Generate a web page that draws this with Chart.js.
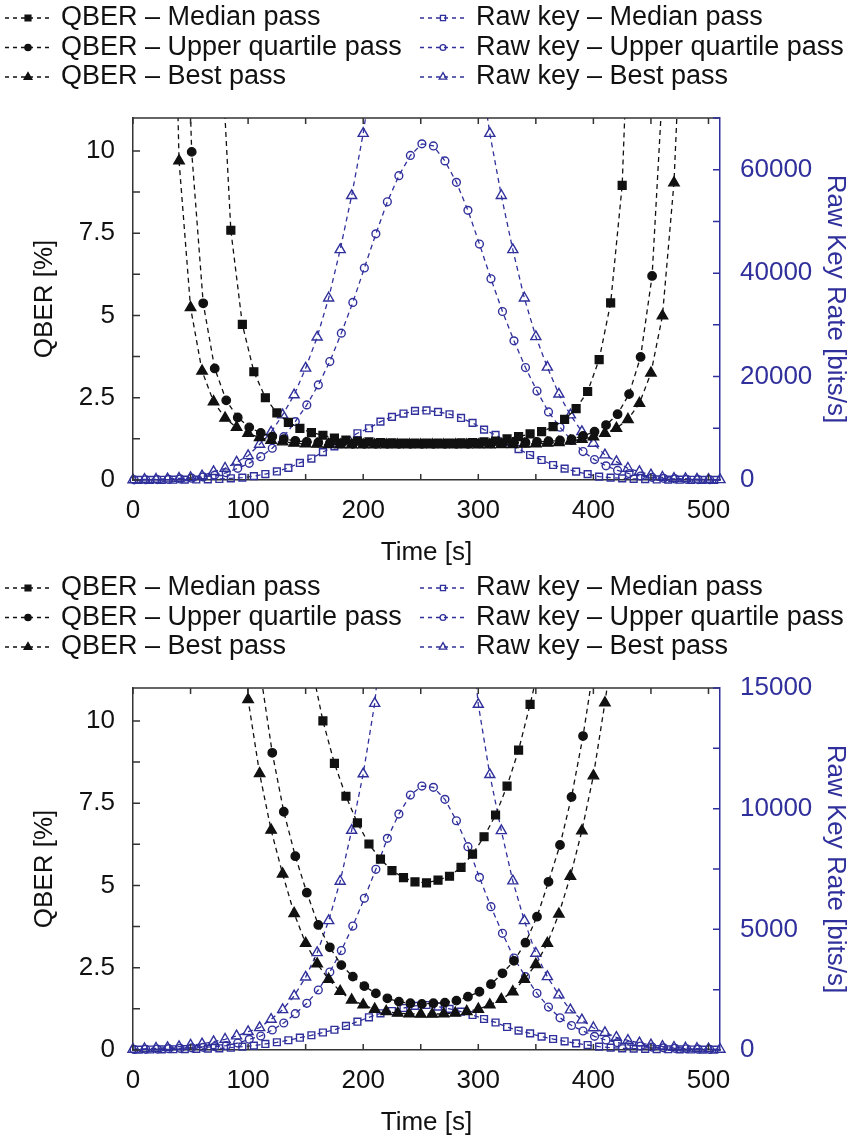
<!DOCTYPE html>
<html>
<head>
<meta charset="utf-8">
<title>QBER and raw key rate</title>
<script src="https://cdn.jsdelivr.net/npm/chart.js@4.4.1/dist/chart.umd.min.js"></script>
<style>
  html, body { margin: 0; padding: 0; background: #fff; }
  canvas { display: block; }
</style>
</head>
<body>
<canvas id="passChartTop" width="867" height="570"></canvas>
<canvas id="passChartBottom" width="867" height="570"></canvas>
<script>
// series names (legend order: left column QBER, right column raw key)
const seriesNames = [
    'QBER – Median pass', 'QBER – Upper quartile pass', 'QBER – Best pass',
    'Raw key – Median pass', 'Raw key – Upper quartile pass', 'Raw key – Best pass'
];

// sample times: every 10 s, each pass has its own first sample [s]
const medianStart = 5;
const upperStart = 1;
const bestStart = 0;

// ---- top chart ----
const qberMedianTopStart = 75;
const qberMedianTop = [14.4, 7.59, 4.73, 3.29, 2.50, 2.04, 1.75, 1.57, 1.44, 1.36,
    1.27, 1.21, 1.18, 1.16, 1.14, 1.13, 1.12, 1.12, 1.12, 1.12,
    1.12, 1.13, 1.14, 1.16, 1.18, 1.25, 1.32, 1.40, 1.47, 1.62,
    1.84, 2.17, 2.69, 3.66, 5.38, 8.95, 18.4];
const qberUpperTopStart = 41;
const qberUpperTop = [21, 9.97, 5.37, 3.39, 2.42, 1.90, 1.60, 1.43, 1.32, 1.24,
    1.19, 1.16, 1.14, 1.12, 1.11, 1.10, 1.10, 1.10, 1.10, 1.10,
    1.10, 1.10, 1.10, 1.10, 1.10, 1.10, 1.11, 1.11, 1.12, 1.13,
    1.14, 1.16, 1.18, 1.20, 1.24, 1.34, 1.47, 1.67, 2.00, 2.61,
    3.74, 6.20, 12.5];
const qberBestTopStart = 30;
const qberBestTop = [25, 9.70, 5.24, 3.31, 2.38, 1.88, 1.60, 1.42, 1.29, 1.21,
    1.16, 1.12, 1.10, 1.09, 1.08, 1.07, 1.07, 1.07, 1.07, 1.07,
    1.07, 1.07, 1.07, 1.07, 1.07, 1.07, 1.07, 1.07, 1.07, 1.08,
    1.08, 1.09, 1.10, 1.12, 1.14, 1.18, 1.24, 1.31, 1.42, 1.57,
    1.84, 2.33, 3.25, 4.99, 9.03, 17];

const rawMedianTop = [20, 30, 40, 60, 80, 100, 130, 200, 330, 450,
    750, 1150, 1650, 2350, 3300, 4150, 5400, 6500, 7740, 9040,
    10010, 11290, 12200, 12850, 13360, 13450, 13160, 12720, 12000, 11040,
    9750, 8710, 7360, 5970, 4840, 3870, 2900, 2200, 1610, 1130,
    640, 450, 320, 230, 160, 110, 80, 60, 40, 30, 20];
const rawUpperTop = [30, 50, 80, 120, 200, 350, 600, 950, 1400, 2260,
    3230, 4510, 6140, 8380, 11290, 14520, 18390, 22900, 28400, 34330,
    40990, 47600, 53800, 58850, 62760, 65000, 64600, 61700, 57560, 52140,
    45630, 38910, 32580, 26910, 21740, 17200, 13160, 10200, 7650, 5500,
    3950, 2740, 1850, 1250, 770, 520, 320, 200, 130, 80, 50];
const rawBestTop = [30, 130, 140, 190, 330, 450, 800, 1610, 2260, 3450,
    4700, 6900, 9250, 12580, 16460, 21620, 27630, 35180, 44530, 54980,
    67000, 82000, 94000, 103000, 109000, 112000, 112000, 109000, 103000, 94000,
    82000, 67000, 55000, 44530, 35180, 27700, 21800, 16600, 12580, 9350,
    7100, 4840, 3550, 2260, 1610, 970, 520, 320, 260, 150, 120, 60];

// ---- bottom chart ----
const qberMedianBottomStart = 145;
const qberMedianBottom = [14, 11.7, 10.0, 8.71, 7.71, 6.90, 6.26, 5.80, 5.45, 5.24,
    5.11, 5.08, 5.16, 5.28, 5.55, 5.95, 6.48, 7.14, 8.02, 9.11,
    10.50, 12.0, 14.5];
const qberUpperBottomStart = 101;
const qberUpperBottom = [14.5, 11.4, 9.03, 7.24, 5.89, 4.78, 3.80, 3.12, 2.58, 2.23,
    1.94, 1.72, 1.57, 1.47, 1.42, 1.40, 1.42, 1.44, 1.50, 1.62,
    1.77, 2.00, 2.33, 2.71, 3.26, 4.05, 5.11, 6.23, 7.69, 9.54,
    11.8, 15];
const qberBestBottomStart = 90;
const qberBestBottom = [20, 10.65, 8.40, 6.68, 5.35, 4.15, 3.24, 2.62, 2.15, 1.78,
    1.52, 1.37, 1.24, 1.17, 1.12, 1.10, 1.09, 1.09, 1.10, 1.12,
    1.17, 1.24, 1.37, 1.54, 1.77, 2.15, 2.60, 3.24, 4.13, 5.28,
    6.66, 8.33, 10.55, 13];

const rawMedianBottom = [15, 20, 25, 30, 40, 45, 55, 70, 95, 140,
    180, 250, 320, 405, 510, 610, 725, 840, 1000, 1173,
    1355, 1520, 1616, 1740, 1830, 1864, 1800, 1706, 1589, 1450,
    1284, 1140, 953, 801, 690, 552, 455, 360, 276, 207,
    139, 97, 70, 55, 45, 40, 30, 25, 20, 15, 12];
const rawUpperBottom = [20, 30, 40, 55, 70, 90, 110, 140, 180, 290,
    442, 580, 829, 1118, 1506, 1935, 2486, 3230, 4120, 5137,
    6285, 7487, 8771, 9777, 10565, 10938, 10884, 10387, 9500, 8423,
    7155, 5937, 4835, 3810, 3037, 2349, 1780, 1335, 1015, 787,
    566, 414, 304, 207, 165, 120, 90, 70, 50, 35, 25];
const rawBestBottom = [30, 50, 70, 100, 140, 200, 250, 346, 443, 580,
    760, 925, 1270, 1670, 2240, 3020, 4030, 5357, 6990, 9100,
    11440, 14360, 19000, 23000, 26000, 27500, 27500, 26000, 23000, 19000,
    14320, 11410, 9086, 7002, 5357, 4006, 3037, 2279, 1657, 1243,
    920, 720, 525, 400, 290, 210, 150, 110, 80, 60, 45, 30];

const BLUE = '#30309c';
const BLACK = '#111111';
const AXIS = '#333333';
const FONT = "'Liberation Sans', Arial, sans-serif";

Chart.defaults.font.family = FONT;
Chart.defaults.font.size = 26;
Chart.defaults.color = BLACK;

// marker styles per series
const looks = [
    { color: BLACK, fill: BLACK, shape: 'rect', r: 5.5, axis: 'y' },
    { color: BLACK, fill: BLACK, shape: 'circle', r: 4.2, axis: 'y' },
    { color: BLACK, fill: BLACK, shape: 'triangle', r: 6, axis: 'y' },
    { color: BLUE, fill: 'rgba(0,0,0,0)', shape: 'rect', r: 4.8, axis: 'y1' },
    { color: BLUE, fill: 'rgba(0,0,0,0)', shape: 'circle', r: 3.9, axis: 'y1' },
    { color: BLUE, fill: 'rgba(0,0,0,0)', shape: 'triangle', r: 5.8, axis: 'y1' },
];

function toPoints(start, values) {
    return values.map((v, i) => ({ x: start + 10 * i, y: v }));
}

// inward tick marks on all four sides + top frame line
const innerTicks = {
    id: 'innerTicks',
    afterDraw(chart) {
        const { ctx, chartArea: a, scales } = chart;
        ctx.save();
        ctx.lineWidth = 1.5;
        ctx.strokeStyle = AXIS;
        ctx.beginPath();
        ctx.moveTo(a.left, a.top);
        ctx.lineTo(a.right, a.top);
        scales.x.ticks.forEach(t => {
            const px = scales.x.getPixelForValue(t.value);
            ctx.moveTo(px, a.bottom);
            ctx.lineTo(px, a.bottom - 6);
            ctx.moveTo(px, a.top);
            ctx.lineTo(px, a.top + 6);
        });
        scales.y.ticks.forEach(t => {
            const py = scales.y.getPixelForValue(t.value);
            ctx.moveTo(a.left, py);
            ctx.lineTo(a.left + 7, py);
        });
        ctx.stroke();
        ctx.strokeStyle = BLUE;
        ctx.beginPath();
        scales.y1.ticks.forEach(t => {
            const py = scales.y1.getPixelForValue(t.value);
            ctx.moveTo(a.right, py);
            ctx.lineTo(a.right - 7, py);
        });
        ctx.stroke();
        ctx.restore();
    }
};

// two-column legend above the plot
const legendCols = [5, 420];
const legendRows = [18, 47.5, 77];
const columnLegend = {
    id: 'columnLegend',
    afterDraw(chart) {
        const ctx = chart.ctx;
        ctx.save();
        ctx.font = '27px ' + FONT;
        ctx.textBaseline = 'middle';
        chart.data.datasets.forEach((ds, i) => {
            const x0 = legendCols[i < 3 ? 0 : 1];
            const y = legendRows[i % 3];
            ctx.strokeStyle = ds.borderColor;
            ctx.lineWidth = 1.3;
            ctx.setLineDash([4, 4]);
            ctx.beginPath();
            ctx.moveTo(x0, y);
            ctx.lineTo(x0 + 45, y);
            ctx.stroke();
            ctx.setLineDash([]);
            ctx.fillStyle = ds.pointBackgroundColor;
            Chart.helpers.drawPoint(ctx, {
                pointStyle: ds.pointStyle, radius: ds.pointRadius * 0.75,
                rotation: 0, borderWidth: 1.2
            }, x0 + 23, y);
            ctx.fillStyle = BLACK;
            ctx.fillText(ds.label, x0 + 56, y);
        });
        ctx.restore();
    }
};

function makeChart(canvasId, qber, raw, rawMax, rawStep, rawLabelStep) {
    const series = qber.concat(raw);
    const datasets = series.map((pts, i) => {
        const lk = looks[i];
        return {
            label: seriesNames[i],
            data: pts,
            yAxisID: lk.axis,
            borderColor: lk.color,
            backgroundColor: lk.fill,
            borderWidth: 1.3,
            borderDash: [5, 4],
            pointStyle: lk.shape,
            pointRadius: lk.r,
            pointBorderWidth: 1.4,
            pointBackgroundColor: lk.fill,
            pointBorderColor: lk.color,
            tension: 0,
            fill: false,
            clip: { left: 10, right: 10, top: 0, bottom: 10 }
        };
    });

    return new Chart(document.getElementById(canvasId), {
        type: 'line',
        data: { datasets: datasets },
        options: {
            responsive: false,
            animation: false,
            devicePixelRatio: 1,
            layout: { padding: { top: 118, left: 0, right: 0, bottom: 0 } },
            plugins: { legend: { display: false }, tooltip: { enabled: false } },
            scales: {
                x: {
                    type: 'linear', min: 0, max: 510,
                    grid: { display: false, drawTicks: false },
                    border: { display: true, color: AXIS, width: 1.5 },
                    ticks: {
                        stepSize: 50, includeBounds: false, autoSkip: false, maxRotation: 0, padding: 15,
                        callback: v => (v % 100 === 0 ? String(v) : '')
                    },
                    title: { display: true, text: 'Time [s]', padding: { top: 0, bottom: 2 } },
                    afterFit: s => { s.height = 90; }
                },
                y: {
                    position: 'left', min: 0, max: 11,
                    grid: { display: false, drawTicks: false },
                    border: { display: true, color: AXIS, width: 1.5 },
                    ticks: {
                        stepSize: 1.25, includeBounds: false, autoSkip: false, padding: 18,
                        callback: v => (Math.abs(v / 2.5 - Math.round(v / 2.5)) < 1e-6 ? String(v) : '')
                    },
                    title: { display: true, text: 'QBER [%]', padding: { top: 29, bottom: 0 } },
                    afterFit: s => { s.width = 133; }
                },
                y1: {
                    position: 'right', min: 0, max: rawMax,
                    grid: { display: false, drawTicks: false },
                    border: { display: true, color: BLUE, width: 1.5 },
                    ticks: {
                        stepSize: rawStep, includeBounds: false, autoSkip: false, padding: 20, color: BLUE,
                        callback: v => (v % rawLabelStep === 0 ? String(v) : '')
                    },
                    title: { display: true, text: 'Raw Key Rate [bits/s]', color: BLUE, padding: { top: 16, bottom: 0 } },
                    afterFit: s => { s.width = 147; }
                }
            }
        },
        plugins: [innerTicks, columnLegend]
    });
}

const topChart = makeChart('passChartTop',
    [toPoints(qberMedianTopStart, qberMedianTop),
     toPoints(qberUpperTopStart, qberUpperTop),
     toPoints(qberBestTopStart, qberBestTop)],
    [toPoints(medianStart, rawMedianTop),
     toPoints(upperStart, rawUpperTop),
     toPoints(bestStart, rawBestTop)],
    70000, 10000, 20000);

const bottomChart = makeChart('passChartBottom',
    [toPoints(qberMedianBottomStart, qberMedianBottom),
     toPoints(qberUpperBottomStart, qberUpperBottom),
     toPoints(qberBestBottomStart, qberBestBottom)],
    [toPoints(medianStart, rawMedianBottom),
     toPoints(upperStart, rawUpperBottom),
     toPoints(bestStart, rawBestBottom)],
    15000, 2500, 5000);
</script>
</body>
</html>
